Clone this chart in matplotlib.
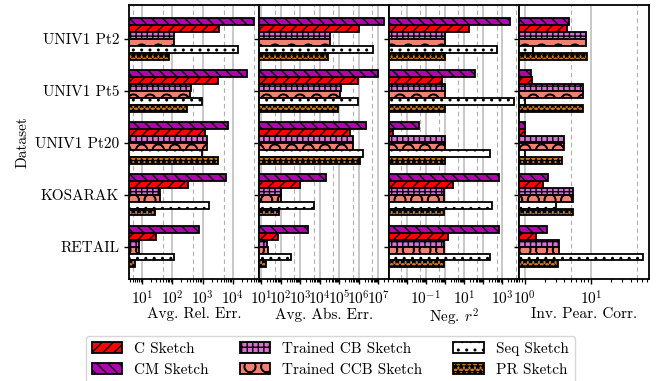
import numpy as np
import matplotlib
matplotlib.use("Agg")
import matplotlib.pyplot as plt
from matplotlib.ticker import LogLocator, FuncFormatter, NullFormatter
import math

plt.rcParams['font.family'] = 'serif'
plt.rcParams['font.serif'] = ['cmr10', 'DejaVu Serif']
plt.rcParams['mathtext.fontset'] = 'cm'
plt.rcParams['axes.formatter.use_mathtext'] = True
plt.rcParams['axes.unicode_minus'] = False
plt.rcParams['hatch.linewidth'] = 1.0

datasets = ["UNIV1 Pt2", "UNIV1 Pt5", "UNIV1 Pt20", "KOSARAK", "RETAIL"]
sketches = ["C Sketch", "CM Sketch", "Trained CB Sketch", "Trained CCB Sketch",
            "Seq Sketch", "PR Sketch"]
metrics = ["Avg. Rel. Err.", "Avg. Abs. Err.", "Neg. $r^2$", "Inv. Pear. Corr."]

# values per sketch, per dataset (order of datasets list)
rel_err = {
    "C Sketch":           [3500, 3200, 1170, 340, 29],
    "CM Sketch":          [51000, 29000, 7000, 6000, 780],
    "Trained CB Sketch":  [110, 420, 1400, 38, 7.9],
    "Trained CCB Sketch": [110, 400, 1400, 38, 8.0],
    "Seq Sketch":         [15500, 950, 930, 1600, 110],
    "PR Sketch":          [80, 310, 3300, 26, 5.8],
}
abs_err = {
    "C Sketch":           [1.0e6, 9.1e5, 3.55e5, 950, 71],
    "CM Sketch":          [2.0e7, 1.0e7, 2.3e6, 2.2e4, 2600],
    "Trained CB Sketch":  [3.3e4, 1.2e5, 5.0e5, 105, 20],
    "Trained CCB Sketch": [3.3e4, 1.15e5, 5.0e5, 105, 22],
    "Seq Sketch":         [5.4e6, 9.5e5, 1.7e6, 5000, 350],
    "PR Sketch":          [2.6e4, 8.9e4, 1.15e6, 83, 17],
}
neg_r2 = {
    "C Sketch":           [18, 0.72, 0.002, 2.8, 1.45],
    "CM Sketch":          [2400, 38, 0.043, 670, 690],
    "Trained CB Sketch":  [1.07, 1.07, 1.05, 0.95, 0.95],
    "Trained CCB Sketch": [1.07, 1.07, 1.0, 0.95, 0.95],
    "Seq Sketch":         [500, 4100, 215, 300, 220],
    "PR Sketch":          [1.07, 1.07, 1.05, 0.95, 0.95],
}
inv_pear = {
    "C Sketch":           [4.3, 1.28, 1.0, 1.92, 1.5],
    "CM Sketch":          [4.7, 1.25, 1.02, 2.28, 2.18],
    "Trained CB Sketch":  [8.6, 7.7, 4.0, 5.4, 3.3],
    "Trained CCB Sketch": [8.6, 7.7, 4.0, 5.4, 3.3],
    "Seq Sketch":         [1.34, 1.02, 1.02, 2.95, 62],
    "PR Sketch":          [8.8, 7.6, 3.7, 5.3, 3.2],
}
all_data = [rel_err, abs_err, neg_r2, inv_pear]

colors = {"C Sketch": "#ff0000", "CM Sketch": "#b000b0",
          "Trained CB Sketch": "#d96fd9", "Trained CCB Sketch": "#f08070",
          "Seq Sketch": "#ffffff", "PR Sketch": "#d07818"}
hatches = {"C Sketch": "///", "CM Sketch": "\\\\\\", "Trained CB Sketch": "+++",
           "Trained CCB Sketch": "O", "Seq Sketch": "..", "PR Sketch": "***"}
# vertical slot (top to bottom) within a group
slot = {"CM Sketch": 0, "C Sketch": 1, "Trained CB Sketch": 2,
        "Trained CCB Sketch": 3, "Seq Sketch": 4, "PR Sketch": 5}

xlims = [(3.7, 7.4e4), (7.8, 3.5e7), (1.2e-3, 7.4e3), (0.82, 76)]
label_stride = [1, 1, 2, 1]

fig = plt.figure(figsize=(6.58, 3.81), dpi=100)
axes = fig.subplots(1, 4, sharey=True)
fig.subplots_adjust(left=129/658, right=649/658, top=1-5.3/381,
                    bottom=1-279.3/381, wspace=0)

h = 0.8 / 6
y = np.arange(len(datasets))

for k, (ax, data) in enumerate(zip(axes, all_data)):
    ax.set_xscale('log')
    lo, hi = xlims[k]
    # grid lines
    for e in range(int(math.floor(math.log10(lo))) - 1, int(math.ceil(math.log10(hi))) + 1):
        for v, ls, c, lw in [(10.0**e, '-', '#c4c4c4', 1.3), (5 * 10.0**e, (0, (4, 3)), '#b0b0b0', 0.8)]:
            if lo < v < hi:
                ax.axvline(v, color=c, lw=lw, ls=ls, zorder=0)
    for s in sketches:
        ax.barh(y - 2.5 * h + slot[s] * h, data[s], height=h, color=colors[s],
                edgecolor='black', linewidth=1.3, hatch=hatches[s], label=s,
                zorder=2)
    ax.set_xlim(lo, hi)
    ax.xaxis.set_major_locator(LogLocator(base=10, subs=(1.0,), numticks=20))
    ax.xaxis.set_minor_locator(LogLocator(base=10, subs=np.arange(2, 10), numticks=20))
    ax.xaxis.set_minor_formatter(NullFormatter())
    st = label_stride[k]
    ax.xaxis.set_major_formatter(FuncFormatter(
        lambda v, p, st=st: (r'$\mathdefault{10^{%d}}$' % round(math.log10(v)))
        if round(math.log10(v)) % st == 1 % st else ''))
    ax.set_xlabel(metrics[k], fontsize=11, labelpad=0)
    ax.tick_params(axis='both', labelsize=11, length=3.5, width=1)
    ax.tick_params(axis='x', which='minor', length=2, width=0.8)
    for sp in ax.spines.values():
        sp.set_linewidth(1.3)

axes[0].set_yticks(y)
axes[0].set_yticklabels(datasets)
axes[0].set_ylim(4.63, -0.65)
axes[0].set_ylabel("Dataset", fontsize=11)

handles, labels = axes[0].get_legend_handles_labels()
fig.legend(handles, labels, ncol=3, loc='upper center',
           bbox_to_anchor=(0.502, 1 - 328/381), fontsize=11, frameon=True)

fig.savefig("out.png", dpi=100)
